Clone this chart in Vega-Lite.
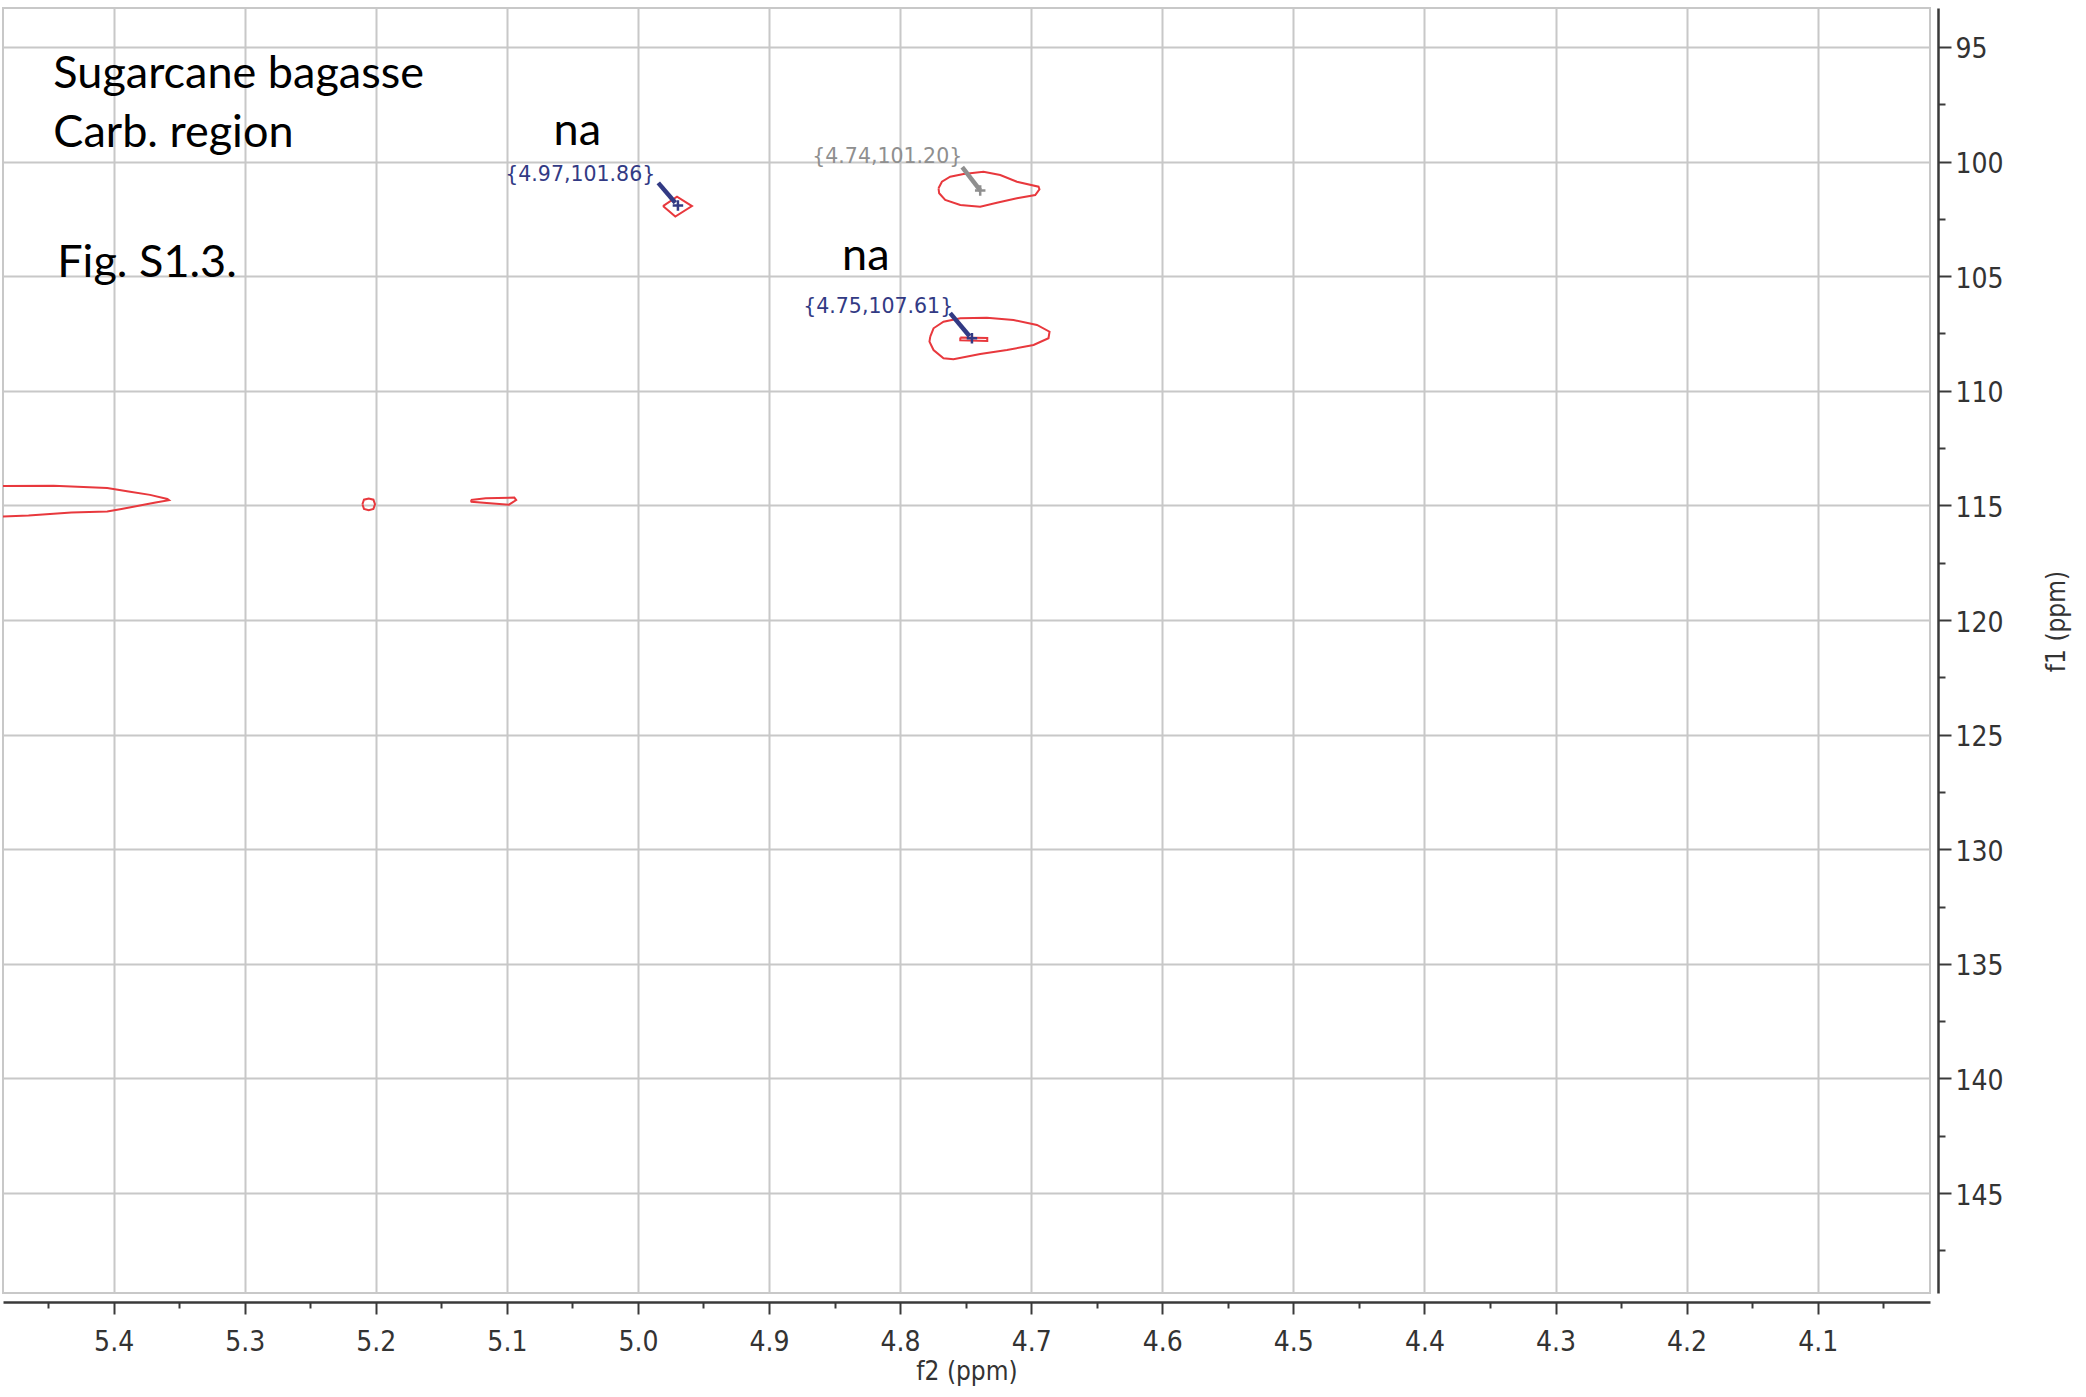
{
  "$schema": "https://vega.github.io/schema/vega-lite/v6.json",
  "width": 1927,
  "height": 1285,
  "autosize": {"type": "none"},
  "padding": {"left": 3, "top": 8, "right": 156, "bottom": 104},
  "background": "white",
  "config": {
    "view": {"stroke": "#c8c8c8", "strokeWidth": 2},
    "font": "DejaVu Sans"
  },
  "datasets": {
    "contours": [
      {"c": "A", "i": 0, "x": 4.9809, "y": 101.94},
      {"c": "A", "i": 1, "x": 4.9702, "y": 101.53},
      {"c": "A", "i": 2, "x": 4.9588, "y": 101.94},
      {"c": "A", "i": 3, "x": 4.9715, "y": 102.40},
      {"c": "A", "i": 4, "x": 4.9809, "y": 101.94},
      {"c": "B", "i": 0, "x": 4.7707, "y": 101.165},
      {"c": "B", "i": 1, "x": 4.7681, "y": 100.877},
      {"c": "B", "i": 2, "x": 4.7618, "y": 100.659},
      {"c": "B", "i": 3, "x": 4.7516, "y": 100.541},
      {"c": "B", "i": 4, "x": 4.7364, "y": 100.441},
      {"c": "B", "i": 5, "x": 4.7236, "y": 100.585},
      {"c": "B", "i": 6, "x": 4.7109, "y": 100.877},
      {"c": "B", "i": 7, "x": 4.6944, "y": 101.095},
      {"c": "B", "i": 8, "x": 4.6937, "y": 101.208},
      {"c": "B", "i": 9, "x": 4.6969, "y": 101.457},
      {"c": "B", "i": 10, "x": 4.7109, "y": 101.601},
      {"c": "B", "i": 11, "x": 4.7262, "y": 101.793},
      {"c": "B", "i": 12, "x": 4.7389, "y": 101.968},
      {"c": "B", "i": 13, "x": 4.7541, "y": 101.894},
      {"c": "B", "i": 14, "x": 4.7656, "y": 101.675},
      {"c": "B", "i": 15, "x": 4.7702, "y": 101.383},
      {"c": "B", "i": 16, "x": 4.7707, "y": 101.165},
      {"c": "C", "i": 0, "x": 4.7770, "y": 107.64},
      {"c": "C", "i": 1, "x": 4.7745, "y": 107.273},
      {"c": "C", "i": 2, "x": 4.7669, "y": 106.985},
      {"c": "C", "i": 3, "x": 4.7541, "y": 106.837},
      {"c": "C", "i": 4, "x": 4.7338, "y": 106.811},
      {"c": "C", "i": 5, "x": 4.7135, "y": 106.911},
      {"c": "C", "i": 6, "x": 4.6956, "y": 107.129},
      {"c": "C", "i": 7, "x": 4.6860, "y": 107.421},
      {"c": "C", "i": 8, "x": 4.6868, "y": 107.709},
      {"c": "C", "i": 9, "x": 4.6982, "y": 108.002},
      {"c": "C", "i": 10, "x": 4.7185, "y": 108.220},
      {"c": "C", "i": 11, "x": 4.7389, "y": 108.394},
      {"c": "C", "i": 12, "x": 4.7593, "y": 108.626},
      {"c": "C", "i": 13, "x": 4.7669, "y": 108.582},
      {"c": "C", "i": 14, "x": 4.7745, "y": 108.220},
      {"c": "C", "i": 15, "x": 4.7776, "y": 107.858},
      {"c": "C", "i": 16, "x": 4.7770, "y": 107.64},
      {"c": "D", "i": 0, "x": 4.7541, "y": 107.674},
      {"c": "D", "i": 1, "x": 4.7335, "y": 107.70},
      {"c": "D", "i": 2, "x": 4.7335, "y": 107.827},
      {"c": "D", "i": 3, "x": 4.7541, "y": 107.80},
      {"c": "D", "i": 4, "x": 4.7541, "y": 107.674},
      {"c": "E", "i": 0, "x": 5.4845, "y": 114.15},
      {"c": "E", "i": 1, "x": 5.4458, "y": 114.14},
      {"c": "E", "i": 2, "x": 5.4049, "y": 114.24},
      {"c": "E", "i": 3, "x": 5.3886, "y": 114.39},
      {"c": "E", "i": 4, "x": 5.3722, "y": 114.54},
      {"c": "E", "i": 5, "x": 5.3590, "y": 114.72},
      {"c": "E", "i": 6, "x": 5.3578, "y": 114.77},
      {"c": "E", "i": 7, "x": 5.3680, "y": 114.875},
      {"c": "E", "i": 8, "x": 5.3940, "y": 115.156},
      {"c": "E", "i": 9, "x": 5.4049, "y": 115.265},
      {"c": "E", "i": 10, "x": 5.4322, "y": 115.31},
      {"c": "E", "i": 11, "x": 5.4649, "y": 115.436},
      {"c": "E", "i": 12, "x": 5.4845, "y": 115.48},
      {"c": "F", "i": 0, "x": 5.2102, "y": 114.95},
      {"c": "F", "i": 1, "x": 5.2090, "y": 114.75},
      {"c": "F", "i": 2, "x": 5.2054, "y": 114.70},
      {"c": "F", "i": 3, "x": 5.2018, "y": 114.75},
      {"c": "F", "i": 4, "x": 5.2006, "y": 114.95},
      {"c": "F", "i": 5, "x": 5.2018, "y": 115.15},
      {"c": "F", "i": 6, "x": 5.2054, "y": 115.21},
      {"c": "F", "i": 7, "x": 5.2090, "y": 115.15},
      {"c": "F", "i": 8, "x": 5.2102, "y": 114.95},
      {"c": "G", "i": 0, "x": 5.1275, "y": 114.766},
      {"c": "G", "i": 1, "x": 5.1161, "y": 114.688},
      {"c": "G", "i": 2, "x": 5.0943, "y": 114.657},
      {"c": "G", "i": 3, "x": 5.0929, "y": 114.766},
      {"c": "G", "i": 4, "x": 5.0984, "y": 114.969},
      {"c": "G", "i": 5, "x": 5.1106, "y": 114.922},
      {"c": "G", "i": 6, "x": 5.1270, "y": 114.844},
      {"c": "G", "i": 7, "x": 5.1275, "y": 114.766}
    ],
    "arrows": [
      {"kind": "picked", "x": 4.9845, "y": 100.93, "x2": 4.9715, "y2": 101.80},
      {"kind": "other", "x": 4.7526, "y": 100.24, "x2": 4.7389, "y2": 101.26},
      {"kind": "picked", "x": 4.7618, "y": 106.61, "x2": 4.7470, "y2": 107.62}
    ],
    "crosses": [
      {"kind": "picked", "x": 4.9695, "y": 101.92},
      {"kind": "other", "x": 4.7389, "y": 101.26},
      {"kind": "picked", "x": 4.7452, "y": 107.71}
    ],
    "peaklabels": [
      {"kind": "picked", "x": 4.9868, "y": 100.58, "label": "{4.97,101.86}"},
      {"kind": "other", "x": 4.7526, "y": 99.80, "label": "{4.74,101.20}"},
      {"kind": "picked", "x": 4.7595, "y": 106.34, "label": "{4.75,107.61}"}
    ],
    "na": [
      {"x": 5.0463, "y": 99.28, "text": "na"},
      {"x": 4.8262, "y": 104.73, "text": "na"}
    ],
    "notes": [
      {"x": 5.446, "y": 96.79, "text": "Sugarcane bagasse"},
      {"x": 5.446, "y": 99.36, "text": "Carb. region"},
      {"x": 5.443, "y": 105.03, "text": "Fig. S1.3."}
    ]
  },
  "encoding": {
    "x": {
      "field": "x",
      "type": "quantitative",
      "scale": {"domain": [4.0143, 5.4844], "reverse": true, "nice": false, "zero": false},
      "axis": {
        "orient": "bottom",
        "offset": 9,
        "values": [4.05,4.1,4.15,4.2,4.25,4.3,4.35,4.4,4.45,4.5,4.55,4.6,4.65,4.7,4.75,4.8,4.85,4.9,4.95,5.0,5.05,5.1,5.15,5.2,5.25,5.3,5.35,5.4,5.45],
        "grid": true,
        "gridColor": "#c8c8c8",
        "gridWidth": 2,
        "gridOpacity": {"condition": {"test": "round(datum.value*100) % 10 == 0", "value": 1}, "value": 0},
        "domainColor": "#3a3a3a",
        "domainWidth": 2.5,
        "tickColor": "#3a3a3a",
        "tickWidth": 2,
        "tickSize": {"condition": {"test": "round(datum.value*100) % 10 == 0", "value": 12}, "value": 6},
        "labelExpr": "round(datum.value*100) % 10 == 0 ? format(datum.value, '.1f') : ''",
        "labelFont": "DejaVu Sans Condensed, DejaVu Sans",
        "labelFontSize": 28,
        "labelColor": "#333333",
        "labelPadding": 14,
        "labelFlush": false,
        "labelOverlap": false,
        "labelBound": false,
        "title": "f2 (ppm)",
        "titleFont": "DejaVu Sans Condensed, DejaVu Sans",
        "titleFontSize": 26,
        "titleFontWeight": "normal",
        "titleColor": "#333333",
        "titlePadding": 2
      }
    },
    "y": {
      "field": "y",
      "type": "quantitative",
      "scale": {"domain": [93.3, 149.36], "reverse": true, "nice": false, "zero": false},
      "axis": {
        "orient": "right",
        "offset": 8,
        "values": [95,97.5,100,102.5,105,107.5,110,112.5,115,117.5,120,122.5,125,127.5,130,132.5,135,137.5,140,142.5,145,147.5],
        "grid": true,
        "gridColor": "#c8c8c8",
        "gridWidth": 2,
        "gridOpacity": {"condition": {"test": "datum.value % 5 == 0", "value": 1}, "value": 0},
        "domainColor": "#3a3a3a",
        "domainWidth": 2.5,
        "tickColor": "#3a3a3a",
        "tickWidth": 2,
        "tickSize": {"condition": {"test": "datum.value % 5 == 0", "value": 13}, "value": 7},
        "labelExpr": "datum.value % 5 == 0 ? datum.label : ''",
        "labelFont": "DejaVu Sans Condensed, DejaVu Sans",
        "labelFontSize": 28,
        "labelColor": "#333333",
        "labelPadding": 4,
        "labelOffset": 3,
        "labelAlign": "left",
        "labelBaseline": "middle",
        "labelFlush": false,
        "labelOverlap": false,
        "labelBound": false,
        "title": "f1 (ppm)",
        "titleFont": "DejaVu Sans Condensed, DejaVu Sans",
        "titleFontSize": 26,
        "titleFontWeight": "normal",
        "titleColor": "#333333",
        "titleAngle": 270,
        "titleX": 118,
        "titleY": 613,
        "titleAlign": "center",
        "titleBaseline": "middle"
      }
    }
  },
  "layer": [
    {
      "data": {"name": "contours"},
      "mark": {"type": "line", "stroke": "#e8383d", "strokeWidth": 2, "clip": true, "interpolate": "linear"},
      "encoding": {
        "detail": {"field": "c", "type": "nominal"},
        "order": {"field": "i", "type": "quantitative"}
      }
    },
    {
      "data": {"name": "arrows"},
      "mark": {"type": "rule", "strokeWidth": 4.5, "strokeCap": "butt"},
      "encoding": {
        "x2": {"field": "x2"},
        "y2": {"field": "y2"},
        "color": {"field": "kind", "type": "nominal", "scale": {"domain": ["picked", "other"], "range": ["#323a84", "#8f8f8f"]}, "legend": null}
      }
    },
    {
      "data": {"name": "crosses"},
      "mark": {"type": "point", "shape": "M -1 0 L 1 0 M 0 -1 L 0 1", "size": 110, "filled": false, "strokeWidth": 2.5, "opacity": 1},
      "encoding": {
        "color": {"field": "kind", "type": "nominal", "scale": {"domain": ["picked", "other"], "range": ["#323a84", "#8f8f8f"]}, "legend": null}
      }
    },
    {
      "data": {"name": "peaklabels"},
      "mark": {"type": "text", "align": "right", "baseline": "middle", "font": "DejaVu Sans", "fontSize": 20.5},
      "encoding": {
        "text": {"field": "label"},
        "color": {"field": "kind", "type": "nominal", "scale": {"domain": ["picked", "other"], "range": ["#323a84", "#9a9a9a"]}, "legend": null}
      }
    },
    {
      "data": {"name": "na"},
      "mark": {"type": "text", "align": "center", "baseline": "alphabetic", "font": "Lato", "fontSize": 45, "color": "#000000"},
      "encoding": {"text": {"field": "text"}}
    },
    {
      "data": {"name": "notes"},
      "mark": {"type": "text", "align": "left", "baseline": "alphabetic", "font": "Lato", "fontSize": 45, "color": "#000000"},
      "encoding": {"text": {"field": "text"}}
    }
  ]
}
